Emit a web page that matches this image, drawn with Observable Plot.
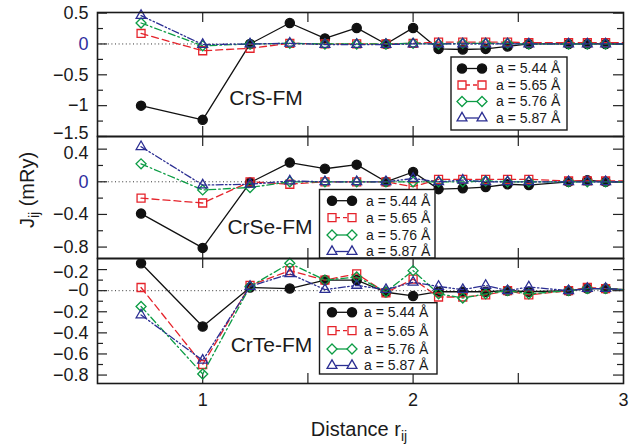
<!DOCTYPE html>
<html>
<head>
<meta charset="utf-8">
<script src="https://cdn.jsdelivr.net/npm/d3@7"></script>
<script src="https://cdn.jsdelivr.net/npm/@observablehq/plot@0.6"></script>
<style>
  body { margin: 0; background: #fff; }
  #chart { position: relative; width: 639px; height: 445px; font-family: "Liberation Sans", Arial, sans-serif; color: #1a1a1a; }
  #chart svg { position: absolute; left: 0; overflow: visible; }
</style>
</head>
<body>
<div id="chart"></div>
<script>
// Cr–Cr neighbour distances (in units of the lattice constant a)
const distances = [0.707, 1.0, 1.225, 1.414, 1.581, 1.732, 1.871, 2.0, 2.121, 2.236, 2.345, 2.449, 2.550, 2.739, 2.828, 2.915, 3.0];

// Lattice constants shown in the legends
const seriesNames = ["a = 5.44 Å", "a = 5.65 Å", "a = 5.76 Å", "a = 5.87 Å"];

// CrS-FM exchange constants J_ij (mRy)
const crsA544 = [-1.00, -1.23, 0.00, 0.34, 0.09, 0.26, 0.00, 0.26, -0.08, -0.09, -0.08, -0.04, 0.00, 0.00, 0.00, 0.00, 0.00];
const crsA565 = [0.17, -0.11, -0.07, 0.01, 0.00, 0.00, 0.00, 0.01, 0.03, 0.03, 0.03, 0.03, 0.02, 0.02, 0.02, 0.02, 0.02];
const crsA576 = [0.34, -0.03, 0.00, 0.01, 0.00, 0.00, 0.00, 0.01, 0.00, 0.01, 0.01, 0.01, 0.00, 0.00, 0.00, 0.00, 0.00];
const crsA587 = [0.46, -0.01, 0.00, 0.01, -0.01, -0.01, -0.01, 0.00, 0.00, 0.00, 0.00, 0.00, 0.00, 0.00, 0.00, 0.00, 0.00];

// CrSe-FM exchange constants J_ij (mRy)
const crseA544 = [-0.39, -0.81, -0.01, 0.235, 0.16, 0.21, 0.00, 0.12, -0.09, -0.08, -0.065, -0.03, -0.04, 0.00, 0.02, 0.00, 0.00];
const crseA565 = [-0.20, -0.26, 0.00, -0.03, 0.00, 0.00, 0.00, -0.06, 0.03, 0.03, 0.03, 0.03, 0.03, 0.01, 0.01, 0.01, 0.01];
const crseA576 = [0.22, -0.10, -0.07, 0.00, 0.00, 0.00, 0.00, 0.00, 0.00, 0.00, 0.01, 0.00, 0.00, 0.00, 0.00, 0.00, 0.00];
const crseA587 = [0.43, -0.04, -0.03, 0.01, 0.00, 0.00, 0.00, 0.04, 0.00, 0.02, 0.00, 0.00, 0.00, 0.00, 0.00, 0.00, 0.00];

// CrTe-FM exchange constants J_ij (mRy)
const crteA544 = [0.26, -0.34, 0.03, 0.02, 0.10, 0.10, -0.015, -0.05, -0.01, -0.01, -0.01, 0.00, -0.01, 0.00, 0.02, 0.02, 0.01];
const crteA565 = [0.03, -0.70, 0.05, 0.19, 0.10, 0.16, -0.02, 0.11, -0.06, -0.06, -0.04, 0.00, -0.04, 0.00, 0.03, 0.02, 0.01];
const crteA576 = [-0.15, -0.79, 0.04, 0.26, 0.10, 0.13, -0.01, 0.19, -0.03, -0.07, -0.03, 0.00, -0.03, 0.00, 0.02, 0.02, 0.01];
const crteA587 = [-0.23, -0.66, 0.04, 0.16, 0.01, 0.05, 0.01, 0.08, 0.04, 0.01, 0.05, 0.00, 0.035, 0.00, 0.02, 0.02, 0.01];

// Axis ticks and their printed labels
const xTicks = [1, 1.5, 2, 2.5];
const xTickLabels = [1, 2, 3];
const crsYTicks = [0.5, 0, -0.5, -1, -1.5];
const crsYLabels = ["0.5", "0", "−0.5", "−1", "−1.5"];
const crsYMinor = [0.25, -0.25, -0.75, -1.25];
const crseYTicks = [0.4, 0, -0.4, -0.8];
const crseYLabels = ["0.4", "0", "−0.4", "−0.8"];
const crseYMinor = [0.2, -0.2, -0.6];
const crteYTicks = [0.2, 0, -0.2, -0.4, -0.6, -0.8];
const crteYLabels = ["−0.2", "−0", "−0.2", "−0.4", "−0.6", "−0.8"];
const crteYMinor = [0.1, -0.1, -0.3, -0.5, -0.7];

// Series styling
const seriesColors = ["#111111", "#e5232b", "#0c9c45", "#2b2e92"];
const seriesDash = [null, "7,4", "7,3,1.6,3", "7,2.4,1.5,2.4,1.5,2.4"];
const seriesSymbols = ["circle", "square", "diamond2", "triangle2"];
const seriesFill = ["#111111", "none", "none", "none"];
const seriesRadius = [4.6, 4.5, 4.5, 4.7];
const d3Symbols = {circle: d3.symbolCircle, square: d3.symbolSquare, diamond2: d3.symbolDiamond2, triangle2: d3.symbolTriangle2};

const W = 639, ML = 97, MR = 16;
const FONT = "'Liberation Sans', Arial, Helvetica, sans-serif";
const TICK_FONT = 18;
const zeroBlue = "#2e2e9e";

function panel(cfg) {
  const plotW = W - ML - MR;
  const plotH = cfg.height - cfg.marginTop - cfg.marginBottom;
  const marks = [
    Plot.ruleY([0], {stroke: "#333", strokeWidth: 1, strokeDasharray: "1,2.6"}),
    // inward y ticks, both sides
    Plot.tickY(cfg.yTicks, {y: d => d, insetRight: plotW - 10, stroke: "#222", strokeWidth: 1.2}),
    Plot.tickY(cfg.yTicks, {y: d => d, insetLeft: plotW - 10, stroke: "#222", strokeWidth: 1.2}),
    Plot.tickY(cfg.yMinor, {y: d => d, insetRight: plotW - 6, stroke: "#222", strokeWidth: 1.2}),
    Plot.tickY(cfg.yMinor, {y: d => d, insetLeft: plotW - 6, stroke: "#222", strokeWidth: 1.2}),
    // inward x ticks, top and bottom
    Plot.tickX(xTicks, {x: d => d, insetBottom: plotH - 10, stroke: "#222", strokeWidth: 1.2}),
    Plot.tickX(xTicks, {x: d => d, insetTop: plotH - 10, stroke: "#222", strokeWidth: 1.2})
  ];
  cfg.values.forEach((vals, i) => {
    const rows = distances.map((r, j) => ({r, J: vals[j]}));
    marks.push(Plot.line(rows, {x: "r", y: "J", stroke: seriesColors[i], strokeWidth: 1.3, strokeDasharray: seriesDash[i]}));
    // the point at r = 3 sits on the frame edge and its marker is clipped
    marks.push(Plot.dot(rows.filter(d => d.r < 3), {x: "r", y: "J", symbol: seriesSymbols[i], r: seriesRadius[i],
      stroke: seriesColors[i], fill: seriesFill[i], strokeWidth: 1.3}));
  });
  marks.push(Plot.frame({stroke: "#1a1a1a", strokeWidth: 1.6}));
  const labelOf = d => cfg.yLabels[cfg.yTicks.indexOf(d)];
  // one label per tick: the zero label has its own colour, and labels at
  // the panel edges are eased away from the neighbouring panel
  const nudge = cfg.nudge || {};
  cfg.yTicks.forEach(t => {
    marks.push(Plot.axisY([t], {anchor: "left", tickSize: 0, tickPadding: 9, tickFormat: labelOf, fontSize: TICK_FONT,
      label: null, fill: t === 0 ? cfg.zeroColor : "#1a1a1a", dy: nudge[t] || 0}));
  });
  if (cfg.showX) {
    marks.push(Plot.axisX(xTickLabels, {anchor: "bottom", tickSize: 0, tickPadding: 10, tickFormat: d => String(d), fontSize: TICK_FONT, label: null, fill: "#1a1a1a"}));
  }
  const svg = Plot.plot({
    width: W, height: cfg.height,
    marginLeft: ML, marginRight: MR, marginTop: cfg.marginTop, marginBottom: cfg.marginBottom,
    x: {domain: [0.5, 3], axis: cfg.showX ? undefined : null},
    y: {domain: cfg.domain},
    style: {fontFamily: FONT, fontSize: TICK_FONT + "px", background: "transparent", overflow: "visible", color: "#1a1a1a"},
    marks
  });
  svg.style.top = cfg.top + "px";
  const s = d3.select(svg);

  // panel name
  s.append("text").attr("x", cfg.name.x).attr("y", cfg.name.y).attr("dy", "0.35em")
    .attr("text-anchor", "middle").attr("font-size", 21).attr("fill", "#1a1a1a").text(cfg.name.text);

  // legend box
  const L = cfg.legend;
  const g = s.append("g").attr("text-anchor", "start");
  g.append("rect").attr("x", L.x0).attr("y", L.y0).attr("width", L.x1 - L.x0).attr("height", L.y1 - L.y0)
    .attr("fill", "#fff").attr("stroke", "#1a1a1a").attr("stroke-width", 1.4);
  seriesNames.forEach((name, i) => {
    const y = L.rows[i];
    g.append("line").attr("x1", L.m1 + 4).attr("x2", L.m2 - 4).attr("y1", y).attr("y2", y)
      .attr("stroke", seriesColors[i]).attr("stroke-width", 1.3)
      .attr("stroke-dasharray", i === 1 ? "4,3" : null);
    const sym = d3.symbol(d3Symbols[seriesSymbols[i]], Math.PI * seriesRadius[i] ** 2)();
    [L.m1, L.m2].forEach(mx => {
      g.append("path").attr("d", sym).attr("transform", `translate(${mx},${y})`)
        .attr("fill", seriesFill[i]).attr("stroke", seriesColors[i]).attr("stroke-width", 1.3);
    });
    g.append("text").attr("x", L.tx).attr("y", y).attr("dy", "0.35em").attr("font-size", 14)
      .attr("text-anchor", "start").attr("fill", "#1a1a1a").text(name);
  });
  return s;
}

const chart = document.getElementById("chart");

const p1 = panel({
  top: 0, height: 136, marginTop: 12, marginBottom: 0, domain: [-1.5, 0.51],
  yTicks: crsYTicks, yLabels: crsYLabels, yMinor: crsYMinor, zeroColor: zeroBlue,
  nudge: {"-1.5": -3.5},
  values: [crsA544, crsA565, crsA576, crsA587],
  name: {text: "CrS-FM", x: 266, y: 98},
  legend: {x0: 451, y0: 57, x1: 567, y1: 130, rows: [68.5, 85, 101.5, 118], m1: 462, m2: 482, tx: 496}
});
const p2 = panel({
  top: 136, height: 122, marginTop: 0, marginBottom: 0, domain: [-0.94, 0.555],
  yTicks: crseYTicks, yLabels: crseYLabels, yMinor: crseYMinor, zeroColor: zeroBlue,
  nudge: {"0.4": 4.5},
  values: [crseA544, crseA565, crseA576, crseA587],
  name: {text: "CrSe-FM", x: 270, y: 91},
  legend: {x0: 319.5, y0: 53.5, x1: 435, y1: 122, rows: [64.7, 81.7, 99, 115.5], m1: 332, m2: 352, tx: 366}
});
const p3 = panel({
  top: 258, height: 187, marginTop: 0, marginBottom: 62, domain: [-0.88, 0.305],
  yTicks: crteYTicks, yLabels: crteYLabels, yMinor: crteYMinor, zeroColor: "#1a1a1a",
  nudge: {"0.2": 2.5},
  values: [crteA544, crteA565, crteA576, crteA587], showX: true,
  name: {text: "CrTe-FM", x: 271.5, y: 87},
  legend: {x0: 319.5, y0: 44.7, x1: 437, y1: 116, rows: [54.3, 72.7, 91, 107.5], m1: 332, m2: 352, tx: 364}
});

// y-axis title, centred on the middle panel
const yl = p2.append("text").attr("transform", "translate(27,54) rotate(-90)")
  .attr("text-anchor", "middle").attr("dy", "0.35em").attr("font-size", 20).attr("fill", "#1a1a1a");
yl.append("tspan").text("J");
yl.append("tspan").attr("font-size", 14).attr("dy", 5).text("ij");
yl.append("tspan").attr("dy", -5).text(" (mRy)");

// x-axis title below the bottom panel
const xl = p3.append("text").attr("x", 359).attr("y", 178)
  .attr("text-anchor", "middle").attr("font-size", 20).attr("fill", "#1a1a1a");
xl.append("tspan").text("Distance r");
xl.append("tspan").attr("font-size", 14).attr("dy", 5).text("ij");

chart.append(p1.node(), p2.node(), p3.node());
</script>
</body>
</html>
